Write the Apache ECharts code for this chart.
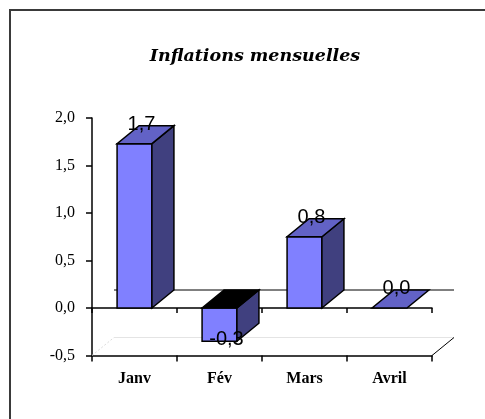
<!DOCTYPE html>
<html>
<head>
<meta charset="utf-8">
<script src="https://cdn.jsdelivr.net/npm/echarts@6/dist/echarts.min.js"></script>
<style>html,body{margin:0;padding:0;background:#fff}#c{width:485px;height:419px}</style>
</head>
<body>
<div id="c"></div>
<script>
const titleText = 'Inflations mensuelles';
const categories = ['Janv', 'Fév', 'Mars', 'Avril'];
const values = [1.73, -0.35, 0.75, 0.0];
const valueLabels = ['1,7', '-0,3', '0,8', '0,0'];
const yMin = -0.5, yMax = 2.0, yStep = 0.5;

const DX = 22, DY = -18;
const BAR_RATIO = 0.41;

const chart = echarts.init(document.getElementById('c'), null, {renderer: 'canvas'});

function fmt(v) { return v.toFixed(1).replace('.', ','); }

const option = {
  animation: false,
  backgroundColor: '#fff',
  title: {
    text: titleText,
    left: 250, top: 51,
    textAlign: 'center', textVerticalAlign: 'middle',
    textStyle: {fontFamily: '"DejaVu Serif"', fontStyle: 'italic', fontWeight: 'bold', fontSize: 17.5, color: '#000'}
  },
  graphic: [{
    type: 'polyline', shape: {points: [[10, 430], [10, 10], [490, 10]]},
    style: {fill: null, stroke: '#3a3a3a', lineWidth: 2}, z: 100
  }],
  grid: {left: 92, right: 53, top: 118, bottom: 63.5},
  xAxis: [{
    type: 'category', data: categories, position: 'bottom',
    axisLine: {onZero: false, lineStyle: {color: '#000', width: 1.5}},
    axisTick: {show: true, length: 6, lineStyle: {color: '#000', width: 1.5}},
    axisLabel: {margin: 15, color: '#000', fontFamily: '"Liberation Serif"', fontWeight: 'bold', fontSize: 16},
    splitLine: {show: false}
  }, {
    type: 'category', data: categories, position: 'bottom',
    axisLine: {onZero: true, lineStyle: {color: '#000', width: 1.5}},
    axisTick: {show: true, length: 5, lineStyle: {color: '#000', width: 1.5}},
    axisLabel: {show: false},
    splitLine: {show: false}
  }],
  yAxis: {
    type: 'value', min: yMin, max: yMax, interval: yStep,
    axisLine: {show: true, lineStyle: {color: '#000', width: 1.5}},
    axisTick: {show: true, length: 6, lineStyle: {color: '#000', width: 1.5}},
    axisLabel: {margin: 17, color: '#000', fontFamily: '"Liberation Serif"', fontSize: 16, formatter: fmt},
    splitLine: {show: false}
  },
  series: [{
    type: 'custom', xAxisIndex: 0, yAxisIndex: 0, z: 1,
    data: [[0, 0]],
    renderItem: function (params, api) {
      const cs = params.coordSys;
      const L = cs.x, R = cs.x + cs.width, B = cs.y + cs.height;
      const Z = api.coord([0, 0])[1];
      return {
        type: 'group',
        children: [
          {type: 'line', shape: {x1: L + DX, y1: B + DY, x2: R + DX, y2: B + DY}, style: {stroke: '#e4e4e4', lineWidth: 1}},
          {type: 'line', shape: {x1: L, y1: B, x2: L + DX, y2: B + DY}, style: {stroke: '#dcdcdc', lineWidth: 1, lineDash: [2, 2]}},
          {type: 'line', shape: {x1: R, y1: B, x2: R + DX, y2: B + DY}, style: {stroke: '#000', lineWidth: 1}},
          {type: 'line', shape: {x1: L + DX, y1: Z + DY, x2: R + DX, y2: Z + DY}, style: {stroke: '#000', lineWidth: 1}}
        ]
      };
    }
  }, {
    type: 'custom', xAxisIndex: 0, yAxisIndex: 0, z: 5,
    data: values.map((v, i) => [i, v]),
    renderItem: function (params, api) {
      const idx = api.value(0), v = api.value(1);
      const c = api.coord([idx, v]);
      const z0 = api.coord([idx, 0]);
      const bw = api.size([1, 0])[0] * BAR_RATIO;
      const x0 = c[0] - bw / 2, x1 = c[0] + bw / 2;
      const yTop = Math.min(c[1], z0[1]), yBot = Math.max(c[1], z0[1]);
      const stroke = {stroke: '#000', lineWidth: 1.5, lineJoin: 'miter'};
      const children = [];
      if (yBot - yTop > 0.5) {
        children.push({type: 'rect', shape: {x: x0, y: yTop, width: bw, height: yBot - yTop}, style: Object.assign({fill: '#8080ff'}, stroke)});
        children.push({type: 'polygon', shape: {points: [[x1, yTop], [x1 + DX, yTop + DY], [x1 + DX, yBot + DY], [x1, yBot]]}, style: Object.assign({fill: '#40407f'}, stroke)});
      }
      children.push({type: 'polygon', shape: {points: [[x0, yTop], [x1, yTop], [x1 + DX, yTop + DY], [x0 + DX, yTop + DY]]}, style: Object.assign({fill: v < 0 ? '#000' : '#6262c6'}, stroke)});
      const lx = c[0] + 7;
      const ly = v < 0 ? yBot - 1.5 : yTop - 19.5;
      children.push({type: 'text', style: {text: valueLabels[idx], x: lx, y: ly, align: 'center', verticalAlign: 'middle', fill: '#000', font: '20px "Liberation Sans"'}});
      return {type: 'group', children: children};
    }
  }]
};
chart.setOption(option);
</script>
</body>
</html>
